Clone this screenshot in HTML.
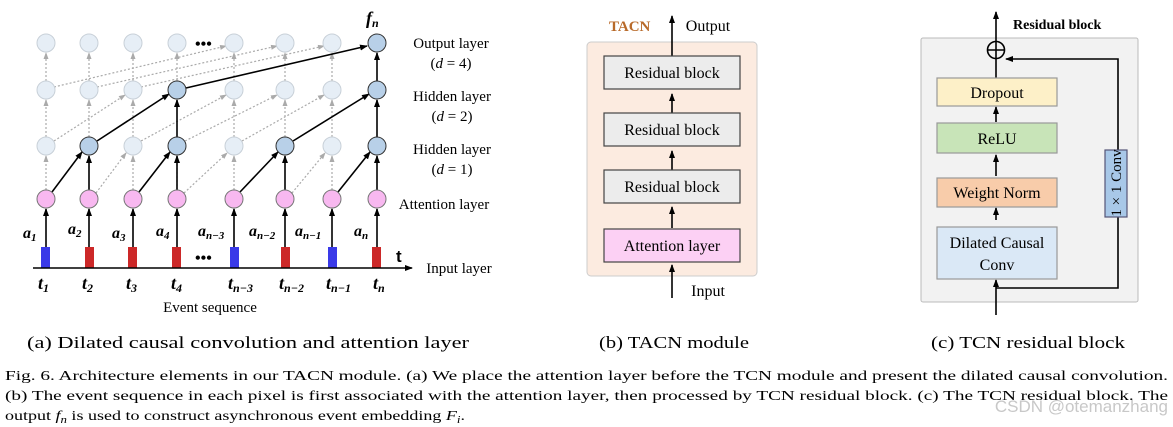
<!DOCTYPE html>
<html><head><meta charset="utf-8"><style>
html,body{margin:0;padding:0;background:#fff;}
svg{display:block;font-family:"Liberation Serif",serif;}
</style></head><body>
<svg width="1173" height="427" viewBox="0 0 1173 427" xmlns="http://www.w3.org/2000/svg">
<defs>
<marker id="ab" markerWidth="8" markerHeight="8" refX="7" refY="4" orient="auto" markerUnits="userSpaceOnUse"><path d="M0,1 L8,4 L0,7 z" fill="#000"/></marker>
<marker id="ag" markerWidth="7" markerHeight="7" refX="6" refY="3.5" orient="auto" markerUnits="userSpaceOnUse"><path d="M0,1 L7,3.5 L0,6 z" fill="#aaa"/></marker>
</defs>
<g id="a">
<g stroke="#aaa" stroke-width="1.2" stroke-dasharray="2,2" fill="none" marker-end="url(#ag)">
<line x1="46" y1="190" x2="46" y2="156"/><line x1="133" y1="190" x2="133" y2="156"/><line x1="177" y1="190" x2="177" y2="156"/><line x1="234" y1="190" x2="234" y2="156"/><line x1="332" y1="190" x2="332" y2="156"/>
<line x1="46" y1="137" x2="46" y2="100"/><line x1="89" y1="137" x2="89" y2="100"/><line x1="133" y1="137" x2="133" y2="100"/><line x1="234" y1="137" x2="234" y2="100"/><line x1="285" y1="137" x2="285" y2="100"/><line x1="332" y1="137" x2="332" y2="100"/>
<line x1="46" y1="81" x2="46" y2="53"/><line x1="89" y1="81" x2="89" y2="53"/><line x1="133" y1="81" x2="133" y2="53"/><line x1="177" y1="81" x2="177" y2="53"/><line x1="234" y1="81" x2="234" y2="53"/><line x1="285" y1="81" x2="285" y2="53"/><line x1="332" y1="81" x2="332" y2="53"/>
<line x1="96" y1="193" x2="126" y2="153"/><line x1="184" y1="193" x2="227" y2="153"/><line x1="292" y1="193" x2="325" y2="153"/>
<line x1="54" y1="141" x2="125" y2="95"/><line x1="141" y1="141" x2="226" y2="95"/><line x1="185" y1="141" x2="277" y2="95"/><line x1="242" y1="141" x2="324" y2="95"/>
<line x1="54" y1="87" x2="226" y2="46"/><line x1="97" y1="87" x2="277" y2="46"/><line x1="141" y1="87" x2="324" y2="46"/>
</g>
<g stroke="#000" stroke-width="1.6" fill="none" marker-end="url(#ab)">
<line x1="46" y1="247" x2="46" y2="209"/><line x1="89" y1="247" x2="89" y2="209"/><line x1="133" y1="247" x2="133" y2="209"/><line x1="177" y1="247" x2="177" y2="209"/><line x1="234" y1="247" x2="234" y2="209"/><line x1="285" y1="247" x2="285" y2="209"/><line x1="332" y1="247" x2="332" y2="209"/><line x1="377" y1="247" x2="377" y2="209"/>
<line x1="89" y1="190" x2="89" y2="156"/><line x1="177" y1="190" x2="177" y2="156"/><line x1="285" y1="190" x2="285" y2="156"/><line x1="377" y1="190" x2="377" y2="156"/>
<line x1="177" y1="137" x2="177" y2="100"/><line x1="377" y1="137" x2="377" y2="100"/>
<line x1="377" y1="81" x2="377" y2="53"/>
<line x1="52" y1="192" x2="82" y2="152"/><line x1="139" y1="192" x2="170" y2="152"/><line x1="240" y1="192" x2="278" y2="152"/><line x1="338" y1="192" x2="370" y2="152"/>
<line x1="97" y1="141" x2="169" y2="94"/><line x1="293" y1="141" x2="369" y2="94"/>
<line x1="186" y1="88" x2="367" y2="46"/>
</g>
<g stroke="#c8d0d8" stroke-width="1" fill="#e6eef6">
<circle cx="46" cy="43" r="9"/><circle cx="89" cy="43" r="9"/><circle cx="133" cy="43" r="9"/><circle cx="177" cy="43" r="9"/><circle cx="234" cy="43" r="9"/><circle cx="285" cy="43" r="9"/><circle cx="332" cy="43" r="9"/>
<circle cx="46" cy="90" r="9"/><circle cx="89" cy="90" r="9"/><circle cx="133" cy="90" r="9"/><circle cx="234" cy="90" r="9"/><circle cx="285" cy="90" r="9"/><circle cx="332" cy="90" r="9"/>
<circle cx="46" cy="146" r="9"/><circle cx="133" cy="146" r="9"/><circle cx="234" cy="146" r="9"/><circle cx="332" cy="146" r="9"/>
</g>
<g stroke="#333" stroke-width="1" fill="#b8d0e8">
<circle cx="377" cy="43" r="9"/><circle cx="177" cy="90" r="9"/><circle cx="377" cy="90" r="9"/>
<circle cx="89" cy="146" r="9"/><circle cx="177" cy="146" r="9"/><circle cx="285" cy="146" r="9"/><circle cx="377" cy="146" r="9"/>
</g>
<g stroke="#777" stroke-width="1" fill="#f8b8f0">
<circle cx="46" cy="199" r="9"/><circle cx="89" cy="199" r="9"/><circle cx="133" cy="199" r="9"/><circle cx="177" cy="199" r="9"/><circle cx="234" cy="199" r="9"/><circle cx="285" cy="199" r="9"/><circle cx="332" cy="199" r="9"/><circle cx="377" cy="199" r="9"/>
</g>
<rect x="41" y="247" width="9" height="21" fill="#3a3ae8"/><rect x="85" y="247" width="9" height="21" fill="#cc2828"/><rect x="128" y="247" width="9" height="21" fill="#cc2828"/><rect x="172" y="247" width="9" height="21" fill="#cc2828"/><rect x="230" y="247" width="9" height="21" fill="#3a3ae8"/><rect x="281" y="247" width="9" height="21" fill="#cc2828"/><rect x="328" y="247" width="9" height="21" fill="#3a3ae8"/><rect x="372" y="247" width="9" height="21" fill="#cc2828"/>
<line x1="33" y1="268" x2="412" y2="268" stroke="#000" stroke-width="1.6" marker-end="url(#ab)"/>
<g font-size="16" font-weight="bold">
<text x="195" y="49">•••</text><text x="195" y="263">•••</text>
</g>
<g font-size="16" font-weight="bold" font-style="italic">
<text x="23" y="238">a<tspan font-size="11" dy="3">1</tspan></text>
<text x="68" y="234">a<tspan font-size="11" dy="3">2</tspan></text>
<text x="112" y="238">a<tspan font-size="11" dy="3">3</tspan></text>
<text x="156" y="236">a<tspan font-size="11" dy="3">4</tspan></text>
<text x="198" y="236">a<tspan font-size="11" dy="3">n−3</tspan></text>
<text x="249" y="236">a<tspan font-size="11" dy="3">n−2</tspan></text>
<text x="295" y="236">a<tspan font-size="11" dy="3">n−1</tspan></text>
<text x="354" y="236">a<tspan font-size="11" dy="3">n</tspan></text>
<text x="366" y="24" font-size="18">f<tspan font-size="12" dy="3">n</tspan></text>
</g>
<g font-size="18" font-weight="bold" font-style="italic">
<text x="38" y="289">t<tspan font-size="12" dy="3">1</tspan></text>
<text x="82" y="289">t<tspan font-size="12" dy="3">2</tspan></text>
<text x="126" y="289">t<tspan font-size="12" dy="3">3</tspan></text>
<text x="171" y="289">t<tspan font-size="12" dy="3">4</tspan></text>
<text x="228" y="289">t<tspan font-size="12" dy="3">n−3</tspan></text>
<text x="279" y="289">t<tspan font-size="12" dy="3">n−2</tspan></text>
<text x="326" y="289">t<tspan font-size="12" dy="3">n−1</tspan></text>
<text x="373" y="289">t<tspan font-size="12" dy="3">n</tspan></text>
</g>
<text x="396" y="262" font-size="17" font-weight="bold" font-family="Liberation Sans,sans-serif">t</text>
<g font-size="15" text-anchor="middle">
<text x="451" y="48">Output layer</text><text x="451" y="68">(<tspan font-style="italic">d</tspan> = 4)</text>
<text x="452" y="101">Hidden layer</text><text x="452" y="121">(<tspan font-style="italic">d</tspan> = 2)</text>
<text x="452" y="154">Hidden layer</text><text x="452" y="174">(<tspan font-style="italic">d</tspan> = 1)</text>
<text x="444" y="209">Attention layer</text>
<text x="459" y="273">Input layer</text>
<text x="210" y="312">Event sequence</text>
</g>
</g>
<rect x="587" y="42" width="170" height="234" rx="4" fill="#fcebe0" stroke="#ccc"/>
<g stroke="#000" stroke-width="1.6" marker-end="url(#ab)">
<line x1="672" y1="56" x2="672" y2="16"/><line x1="672" y1="114" x2="672" y2="94"/><line x1="672" y1="170" x2="672" y2="151"/><line x1="672" y1="228" x2="672" y2="207"/><line x1="672" y1="298" x2="672" y2="265"/>
</g>
<g stroke="#444" stroke-width="1.2">
<rect x="604" y="56" width="136" height="33" fill="#ececec"/>
<rect x="604" y="113" width="136" height="33" fill="#ececec"/>
<rect x="604" y="170" width="136" height="33" fill="#ececec"/>
<rect x="604" y="229" width="136" height="33" fill="#fcd0f4"/>
</g>
<g font-size="16" text-anchor="middle">
<text x="672" y="78">Residual block</text><text x="672" y="135">Residual block</text><text x="672" y="192">Residual block</text><text x="672" y="251">Attention layer</text>
<text x="708" y="31">Output</text><text x="708" y="296">Input</text>
</g>
<text x="609" y="31" font-size="15" font-weight="bold" fill="#b86a2a">TACN</text>
<rect x="921" y="38" width="217" height="264" rx="2" fill="#f2f2f2" stroke="#bbb"/>
<g stroke="#000" stroke-width="1.6" fill="none">
<line x1="996" y1="315" x2="996" y2="280" marker-end="url(#ab)"/>
<line x1="996" y1="220" x2="996" y2="208" marker-end="url(#ab)"/>
<line x1="996" y1="176" x2="996" y2="155" marker-end="url(#ab)"/>
<line x1="996" y1="122" x2="996" y2="107" marker-end="url(#ab)"/>
<line x1="996" y1="78" x2="996" y2="59"/>
<line x1="996" y1="41" x2="996" y2="12" marker-end="url(#ab)"/>
<polyline points="996,288 1118,288 1118,59 1006,59" marker-end="url(#ab)"/>
<circle cx="996" cy="50" r="8.5"/>
<line x1="987.5" y1="50" x2="1004.5" y2="50"/><line x1="996" y1="41.5" x2="996" y2="58.5"/>
</g>
<g stroke="#999" stroke-width="1.2">
<rect x="937" y="78" width="120" height="28" fill="#fdf0c8"/>
<rect x="937" y="123" width="120" height="30" fill="#c8e4b8"/>
<rect x="937" y="178" width="120" height="29" fill="#f8ccaa"/>
<rect x="937" y="227" width="120" height="52" fill="#dae8f6"/>
<rect x="1105" y="150" width="22" height="67" fill="#a8c8e8" stroke="#557"/>
</g>
<g font-size="16" text-anchor="middle">
<text x="997" y="98">Dropout</text><text x="997" y="144">ReLU</text><text x="997" y="198">Weight Norm</text>
<text x="997" y="248">Dilated Causal</text><text x="997" y="270">Conv</text>
<text transform="translate(1121,183) rotate(-90)" font-size="15">1 × 1 Conv</text>
</g>
<text x="1013" y="29" font-size="14" font-weight="bold">Residual block</text>
<g font-size="17">
<text x="27" y="348" textLength="442" lengthAdjust="spacingAndGlyphs">(a) Dilated causal convolution and attention layer</text>
<text x="599" y="348" textLength="150" lengthAdjust="spacingAndGlyphs">(b) TACN module</text>
<text x="931" y="348" textLength="194" lengthAdjust="spacingAndGlyphs">(c) TCN residual block</text>
</g>
<g font-size="14">
<text x="5" y="380" textLength="1163" lengthAdjust="spacingAndGlyphs">Fig. 6.    Architecture elements in our TACN module. (a) We place the attention layer before the TCN module and present the dilated causal convolution.</text>
<text x="5" y="400" textLength="1163" lengthAdjust="spacingAndGlyphs">(b) The event sequence in each pixel is first associated with the attention layer, then processed by TCN residual block. (c) The TCN residual block. The</text>
<text x="5" y="420" textLength="460" lengthAdjust="spacingAndGlyphs">output <tspan font-style="italic">f</tspan><tspan font-size="10" dy="3" font-style="italic">n</tspan><tspan dy="-3"> is used to construct asynchronous event embedding </tspan><tspan font-style="italic">F</tspan><tspan font-size="10" dy="3" font-style="italic">i</tspan><tspan dy="-3">.</tspan></text>
</g>
<text x="1168" y="412" font-size="17" text-anchor="end" fill="#c8c8c8" font-family="Liberation Sans,sans-serif">CSDN @otemanzhang</text>
</svg>
</body></html>
